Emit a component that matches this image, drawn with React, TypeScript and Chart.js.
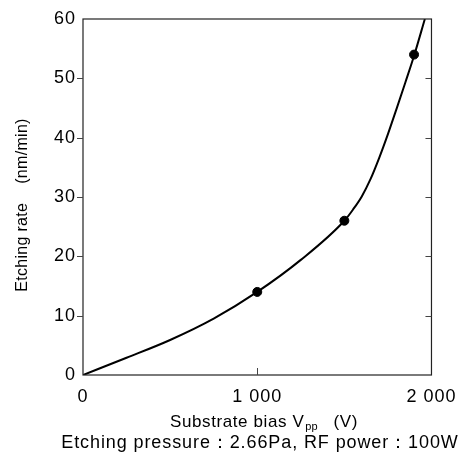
import React, { useEffect, useRef } from 'react';
import { Chart, registerables } from 'chart.js';

Chart.register(...registerables);

const curveBias = [0, 250, 500, 750, 1000, 1250, 1500, 1550, 1600, 1650, 1700, 1750, 1800, 1850, 1900, 1962];
const curveRate = [0, 2.9, 5.9, 9.5, 14, 19.4, 26, 27.9, 30.1, 33.0, 36.6, 40.6, 44.9, 49.3, 53.8, 60];
const measuredBias = [1000, 1500, 1900];
const measuredRate = [14, 26, 54];
const xTickValues = [0, 1000, 2000];
const xTickLabels = ['0', '1 000', '2 000'];
const yTickValues = [0, 10, 20, 30, 40, 50, 60];
const yTitle = 'Etching rate    (nm/min)';
const xTitleMain = 'Substrate bias V';
const xTitleSub = 'pp';
const xTitleUnit = '   (V)';
const noteText = 'Etching pressure：2.66Pa, RF power：100W';

const FONT = '"Liberation Sans", Arial, sans-serif';

const framePlugin = {
  id: 'frame',
  beforeDraw(chart: any) {
    (chart.ctx as any).letterSpacing = '1px';
  },
  afterDraw(chart: any) {
    const { ctx, chartArea } = chart;
    const { left, right, top, bottom } = chartArea;
    const xs = chart.scales.x;
    const ys = chart.scales.y;
    ctx.save();
    (ctx as any).letterSpacing = '0px';
    ctx.strokeStyle = '#222';
    ctx.lineWidth = 1.2;
    ctx.strokeRect(left, top, right - left, bottom - top);
    ctx.strokeStyle = '#444';
    ctx.lineWidth = 1;
    ctx.beginPath();
    yTickValues.forEach((v) => {
      if (v === 0 || v === 60) return;
      const y = Math.round(ys.getPixelForValue(v)) + 0.5;
      ctx.moveTo(left - 6, y);
      ctx.lineTo(left, y);
      ctx.moveTo(right, y);
      ctx.lineTo(right - 6, y);
    });
    xTickValues.forEach((v) => {
      if (v === 0 || v === 2000) return;
      const x = Math.round(xs.getPixelForValue(v)) + 0.5;
      ctx.moveTo(x, bottom);
      ctx.lineTo(x, bottom - 7);
    });
    ctx.stroke();

    ctx.fillStyle = '#000';
    // y title
    ctx.save();
    (ctx as any).letterSpacing = '0.3px';
    ctx.font = `16px ${FONT}`;
    ctx.translate(23, 205);
    ctx.rotate(-Math.PI / 2);
    ctx.textAlign = 'center';
    ctx.textBaseline = 'middle';
    ctx.fillText(yTitle, 0, 0);
    ctx.restore();

    // x title with subscript
    (ctx as any).letterSpacing = '0.6px';
    ctx.font = `17px ${FONT}`;
    ctx.textBaseline = 'alphabetic';
    ctx.textAlign = 'left';
    const x0 = 170;
    const baseY = 427;
    const w1 = ctx.measureText(xTitleMain).width;
    ctx.fillText(xTitleMain, x0, baseY);
    (ctx as any).letterSpacing = '0px';
    ctx.font = `11px ${FONT}`;
    ctx.fillText(xTitleSub, x0 + w1 + 1, baseY + 3);
    const w2 = ctx.measureText(xTitleSub).width;
    (ctx as any).letterSpacing = '0.6px';
    ctx.font = `17px ${FONT}`;
    ctx.fillText(xTitleUnit, x0 + w1 + w2 + 1, baseY);

    // note
    (ctx as any).letterSpacing = '0.9px';
    ctx.textAlign = 'left';
    ctx.font = `18px ${FONT}`;
    const wn = ctx.measureText(noteText).width;
    ctx.fillText(noteText, 260 - wn / 2, 448);
    ctx.restore();
  },
};

export default function App() {
  const ref = useRef<HTMLCanvasElement | null>(null);
  useEffect(() => {
    document.body.style.margin = '0';
    const canvas = ref.current;
    if (!canvas) return;
    const chart = new Chart(canvas, {
      type: 'scatter',
      data: {
        datasets: [
          {
            type: 'line',
            data: curveBias.map((b, i) => ({ x: b, y: curveRate[i] })),
            borderColor: '#000',
            borderWidth: 2,
            pointRadius: 0,
            cubicInterpolationMode: 'monotone',
            fill: false,
          } as any,
          {
            type: 'scatter',
            data: measuredBias.map((b, i) => ({ x: b, y: measuredRate[i] })),
            backgroundColor: '#000',
            borderColor: '#000',
            pointRadius: 4.5,
            pointHoverRadius: 4.5,
          },
        ],
      },
      options: {
        responsive: false,
        animation: false,
        events: [],
        layout: { padding: { left: 0, right: 29, top: 19, bottom: 0 } },
        plugins: { legend: { display: false }, tooltip: { enabled: false }, title: { display: false } },
        scales: {
          x: {
            type: 'linear',
            min: 0,
            max: 2000,
            grid: { display: false, drawTicks: false },
            border: { display: false },
            afterBuildTicks: (s: any) => {
              s.ticks = xTickValues.map((v) => ({ value: v }));
            },
            afterFit: (s: any) => {
              s.height = 453 - 375;
            },
            ticks: {
              padding: 11,
              maxRotation: 0,
              autoSkip: false,
              color: '#000',
              font: { family: FONT, size: 18 },
              callback: (v: any) => {
                const i = xTickValues.indexOf(Number(v));
                return i >= 0 ? xTickLabels[i] : '';
              },
            },
          },
          y: {
            type: 'linear',
            min: 0,
            max: 60,
            grid: { display: false, drawTicks: false },
            border: { display: false },
            afterBuildTicks: (s: any) => {
              s.ticks = yTickValues.map((v) => ({ value: v }));
            },
            afterFit: (s: any) => {
              s.width = 83;
            },
            ticks: {
              padding: 7,
              autoSkip: false,
              color: '#000',
              font: { family: FONT, size: 18 },
            },
          },
        },
      },
      plugins: [framePlugin],
    } as any);
    return () => chart.destroy();
  }, []);
  return (
    <div style={{ width: 465, height: 453 }}>
      <canvas ref={ref} width={465} height={453} style={{ display: 'block' }} />
    </div>
  );
}
